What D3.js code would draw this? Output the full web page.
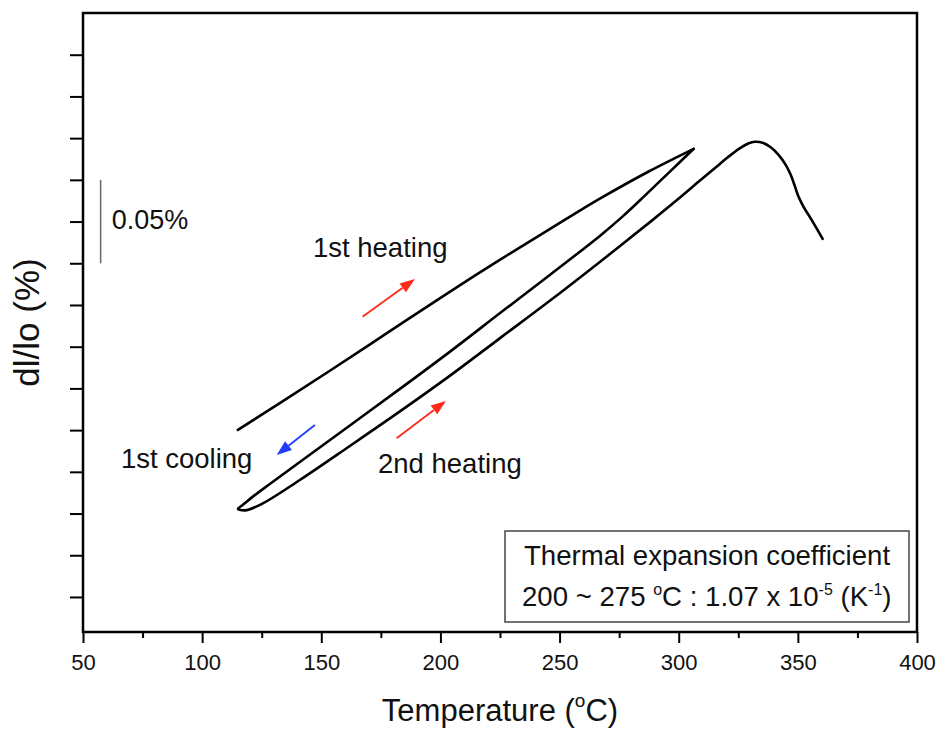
<!DOCTYPE html>
<html>
<head>
<meta charset="utf-8">
<script src="https://cdn.jsdelivr.net/npm/d3@7/dist/d3.min.js"></script>
<style>
body { margin: 0; background: #fff; }
text { font-family: Arial, "Liberation Sans", sans-serif; fill: #111; }
</style>
</head>
<body>
<div id="chart"></div>
<script>
// [temperature (C), dl/lo (%)]
var heating1 = [[115.0,0.1001],[132.6,0.1162],[153.6,0.1356],[178.8,0.1593],[203.9,0.1829],[224.9,0.2020],
  [253.0,0.2267],[266.9,0.2387],[287.8,0.2553],[306.3,0.2686]];
var cooling1 = [[306.3,0.2686],[296.2,0.2548],[285.7,0.2404],[276.5,0.2281],[266.9,0.2164],[245.9,0.1930],
  [224.9,0.1700],[203.9,0.1469],[183.0,0.1247],[162.0,0.1028],[141.0,0.0809],[128.4,0.0677],[120.9,0.0597],
  [117.1,0.0552],[115.0,0.0528]];
var heating2 = [[115.0,0.0528],[118.0,0.0519],[125.1,0.0558],[141.0,0.0701],[162.0,0.0905],[183.0,0.1112],
  [203.9,0.1325],[224.9,0.1550],[245.9,0.1775],[266.9,0.2008],[289.1,0.2260],[300.4,0.2392],[308.8,0.2494],
  [315.1,0.2569],[320.6,0.2635],[325.6,0.2689],[329.4,0.2719],[331.9,0.2728],[335.2,0.2722],[338.6,0.2695],
  [341.9,0.2650],[344.9,0.2590],[347.0,0.2530],[348.7,0.2464],[350.3,0.2398],[352.4,0.2338],[355.0,0.2278],
  [357.5,0.2218],[360.4,0.2146]];

var xTicks = [50, 100, 150, 200, 250, 300, 350, 400];
var xMinor = [75, 125, 175, 225, 275, 325, 375];
var yTicks = [0, 0.025, 0.05, 0.075, 0.1, 0.125, 0.15, 0.175, 0.2, 0.225, 0.25, 0.275, 0.3, 0.325];

// arrows: [tailT, tailDl, tipT, tipDl, colour]
var arrows = [[167.3,0.1680,189.3,0.1905,"#ff2a1a"],
  [147.3,0.1031,131.3,0.0851,"#1f3cff"],
  [181.6,0.0951,202.3,0.1175,"#ff2a1a"]];
var labels = [["1st heating",146.5,0.2038],["1st cooling",65.9,0.0773],["2nd heating",173.8,0.0743]];
var scaleBar = [57.4, 0.20, 0.25];

var width = 939, height = 730;
var pLeft = 83, pRight = 917, pTop = 13, pBottom = 632;

var svg = d3.select('#chart').append('svg')
  .attr('width', width).attr('height', height);

var x = d3.scaleLinear().domain([50, 400]).range([pLeft, pRight]);
var y = d3.scaleLinear().domain([-0.021, 0.35]).range([pBottom, pTop]);

// axes
svg.append('g').attr('transform', 'translate(0,' + pBottom + ')')
  .call(d3.axisBottom(x).tickValues(xTicks).tickSize(11).tickPadding(11).tickFormat(d3.format('d')))
  .call(function (g) {
    g.select('.domain').remove();
    g.selectAll('line').attr('stroke', '#000').attr('stroke-width', 2);
    g.selectAll('text').attr('font-size', 22).attr('fill', '#111').attr('font-family', 'Arial, "Liberation Sans", sans-serif');
  });
svg.append('g').attr('transform', 'translate(0,' + pBottom + ')')
  .call(d3.axisBottom(x).tickValues(xMinor).tickSize(6).tickFormat(''))
  .call(function (g) {
    g.select('.domain').remove();
    g.selectAll('line').attr('stroke', '#000').attr('stroke-width', 2);
  });
svg.append('g').attr('transform', 'translate(' + pLeft + ',0)')
  .call(d3.axisLeft(y).tickValues(yTicks).tickSize(13).tickFormat(''))
  .call(function (g) {
    g.select('.domain').remove();
    g.selectAll('line').attr('stroke', '#000').attr('stroke-width', 2);
  });

// frame
svg.append('rect')
  .attr('x', pLeft).attr('y', pTop)
  .attr('width', pRight - pLeft).attr('height', pBottom - pTop)
  .attr('fill', 'none').attr('stroke', '#000').attr('stroke-width', 2.5);

// curves
var line = d3.line()
  .x(function (d) { return x(d[0]); })
  .y(function (d) { return y(d[1]); })
  .curve(d3.curveCatmullRom.alpha(0.5));

svg.append('path').datum(heating1).attr('d', line)
  .attr('fill', 'none').attr('stroke', '#000').attr('stroke-width', 2.6)
  .attr('stroke-linejoin', 'round').attr('stroke-linecap', 'round');
svg.append('path').datum(cooling1.concat(heating2.slice(1))).attr('d', line)
  .attr('fill', 'none').attr('stroke', '#000').attr('stroke-width', 2.6)
  .attr('stroke-linejoin', 'round').attr('stroke-linecap', 'round');

// arrows
arrows.forEach(function (a) {
  var x0 = x(a[0]), y0 = y(a[1]), x1 = x(a[2]), y1 = y(a[3]);
  var ang = Math.atan2(y1 - y0, x1 - x0);
  var len = 15, hw = 5.5;
  var bx = x1 - len * Math.cos(ang), by = y1 - len * Math.sin(ang);
  svg.append('line')
    .attr('x1', x0).attr('y1', y0).attr('x2', bx).attr('y2', by)
    .attr('stroke', a[4]).attr('stroke-width', 1.8);
  svg.append('path')
    .attr('d', 'M' + x1 + ',' + y1 +
      'L' + (bx + hw * Math.sin(ang)) + ',' + (by - hw * Math.cos(ang)) +
      'L' + (bx - hw * Math.sin(ang)) + ',' + (by + hw * Math.cos(ang)) + 'Z')
    .attr('fill', a[4]);
});

// labels
svg.selectAll('.lab').data(labels).enter().append('text')
  .attr('class', 'lab')
  .attr('x', function (d) { return x(d[1]); })
  .attr('y', function (d) { return y(d[2]); })
  .attr('font-size', 27.5)
  .text(function (d) { return d[0]; });

// scale bar
svg.append('line')
  .attr('x1', x(scaleBar[0])).attr('x2', x(scaleBar[0]))
  .attr('y1', y(scaleBar[1])).attr('y2', y(scaleBar[2]))
  .attr('stroke', '#666').attr('stroke-width', 1.5);
svg.append('text')
  .attr('x', x(scaleBar[0]) + 11).attr('y', y(scaleBar[1]) - 34)
  .attr('font-size', 27).text('0.05%');

// info box
var bx = pRight - 412, by = pBottom - 101;
svg.append('rect').attr('x', bx).attr('y', by).attr('width', 404).attr('height', 91)
  .attr('fill', '#fff').attr('stroke', '#444').attr('stroke-width', 1.5);
svg.append('text').attr('x', bx + 19).attr('y', by + 34).attr('font-size', 27.6)
  .text('Thermal expansion coefficient');
var t2 = svg.append('text').attr('x', bx + 17).attr('y', by + 75).attr('font-size', 27.6);
t2.append('tspan').text('200 ~ 275 ');
t2.append('tspan').attr('font-size', 16).attr('dy', -11).text('o');
t2.append('tspan').attr('dy', 11).text('C : 1.07 x 10');
t2.append('tspan').attr('font-size', 16).attr('dy', -11).text('-5');
t2.append('tspan').attr('dy', 11).text(' (K');
t2.append('tspan').attr('font-size', 16).attr('dy', -11).text('-1');
t2.append('tspan').attr('dy', 11).text(')');

// axis titles
var xt = svg.append('text').attr('x', (pLeft + pRight) / 2).attr('y', 721)
  .attr('text-anchor', 'middle').attr('font-size', 31);
xt.append('tspan').text('Temperature (');
xt.append('tspan').attr('font-size', 19).attr('dy', -14).text('o');
xt.append('tspan').attr('dy', 14).text('C)');

svg.append('text')
  .attr('transform', 'translate(39,' + ((pTop + pBottom) / 2) + ') rotate(-90)')
  .attr('text-anchor', 'middle').attr('font-size', 35)
  .text('dl/lo (%)');
</script>
</body>
</html>
